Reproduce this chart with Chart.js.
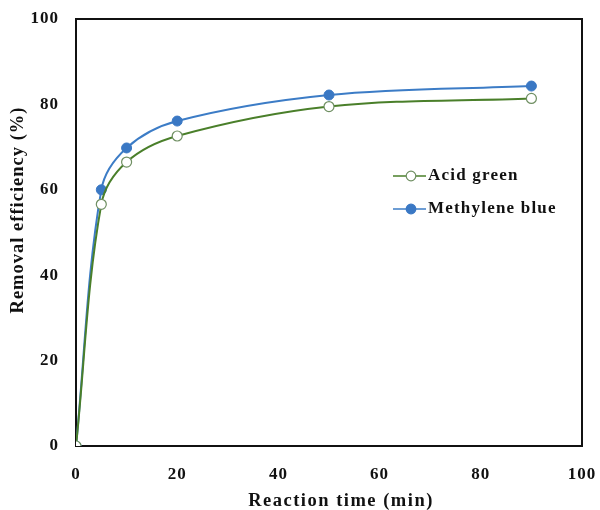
<!DOCTYPE html>
<html>
<head>
<meta charset="utf-8">
<script src="https://cdn.jsdelivr.net/npm/chart.js@4"></script>
<style>
  html, body { margin: 0; padding: 0; background: #fff; }
  #wrap { width: 600px; height: 510px; }
</style>
</head>
<body>
<div id="wrap"><canvas id="kinetics"></canvas></div>
<script>
// Data
const times = [0, 5, 10, 20, 50, 90];
const acidGreen = [0, 56.6, 66.5, 72.6, 79.5, 81.4];
const methyleneBlue = [0, 60.0, 69.8, 76.1, 82.2, 84.3];
const xTicks = [0, 20, 40, 60, 80, 100];
const yTicks = [0, 20, 40, 60, 80, 100];
const xTitle = "Reaction time (min)";
const yTitle = "Removal efficiency (%)";

const serif = "'Liberation Serif', 'DejaVu Serif', serif";

const toPoints = (ys) => times.map((t, i) => ({ x: t, y: ys[i] }));

// the scan's bold Times is a bit stretched, so widen the letters a little
const spacingPlugin = {
    id: "spacing",
    beforeLayout(chart) {
        chart.ctx.letterSpacing = "1px";
    },
};

// frame round the plot area, axis titles, legend inside the plot
const framePlugin = {
    id: "frame",
    beforeDatasetsDraw(chart) {
        const { ctx, chartArea: a } = chart;
        ctx.save();
        ctx.strokeStyle = "#111";
        ctx.lineWidth = 2;
        ctx.strokeRect(a.left, a.top, a.width, a.height);
        ctx.restore();
    },
    afterDraw(chart) {
        const { ctx } = chart;
        ctx.save();
        ctx.fillStyle = "#111";
        ctx.textAlign = "center";
        ctx.textBaseline = "middle";
        ctx.font = "bold 18.5px " + serif;

        // axis titles
        ctx.letterSpacing = "1.5px";
        ctx.fillText(xTitle, 341, 501);
        ctx.letterSpacing = "1px";
        ctx.save();
        ctx.translate(18, 210);
        ctx.rotate(-Math.PI / 2);
        ctx.fillText(yTitle, 0, 0);
        ctx.restore();

        // legend
        const x0 = 393;
        const rows = [176, 209];
        ctx.textAlign = "left";
        ctx.font = "bold 17px " + serif;
        ctx.letterSpacing = "1.2px";
        chart.data.datasets.forEach((ds, i) => {
            const y = rows[i];
            ctx.strokeStyle = ds.borderColor;
            ctx.lineWidth = 1.5;
            ctx.beginPath();
            ctx.moveTo(x0, y);
            ctx.lineTo(x0 + 33, y);
            ctx.stroke();
            ctx.beginPath();
            ctx.arc(x0 + 18, y, 4.8, 0, Math.PI * 2);
            ctx.fillStyle = ds.pointBackgroundColor;
            ctx.fill();
            ctx.strokeStyle = ds.pointBorderColor;
            ctx.lineWidth = 1.2;
            ctx.stroke();
            ctx.fillStyle = "#111";
            ctx.fillText(ds.label, x0 + 35, y);
        });
        ctx.restore();
    },
};

const chart = new Chart(document.getElementById("kinetics"), {
    type: "line",
    data: {
        datasets: [
            {
                label: "Acid green",
                data: toPoints(acidGreen),
                borderColor: "#4a7f2a",
                borderWidth: 2,
                pointBackgroundColor: "#ffffff",
                pointBorderColor: "#6f8f62",
                pointBorderWidth: 1.2,
                pointRadius: 5,
                tension: 0.35,
            },
            {
                label: "Methylene blue",
                data: toPoints(methyleneBlue),
                borderColor: "#3c7cc6",
                borderWidth: 2,
                pointBackgroundColor: "#3a78c4",
                pointBorderColor: "#3a78c4",
                pointBorderWidth: 1,
                pointRadius: 5,
                tension: 0.35,
            },
        ],
    },
    options: {
        responsive: true,
        maintainAspectRatio: false,
        animation: false,
        layout: { padding: { left: 0, right: 18, top: 19, bottom: 0 } },
        plugins: {
            legend: { display: false },
            tooltip: { enabled: false },
        },
        scales: {
            x: {
                type: "linear",
                min: 0,
                max: 100,
                afterFit: (s) => { s.height = 64; },
                afterBuildTicks: (s) => { s.ticks = xTicks.map((v) => ({ value: v })); },
                grid: { display: true, drawOnChartArea: false, drawTicks: true, tickLength: 18, tickColor: "rgba(0,0,0,0)" },
                border: { display: true, color: "#111", width: 2 },
                ticks: {
                    padding: 0,
                    color: "#111",
                    font: { family: serif, size: 17, weight: "bold" },
                },
                title: { display: false, text: xTitle },
            },
            y: {
                min: 0,
                max: 100,
                afterFit: (s) => { s.width = 76; },
                afterBuildTicks: (s) => { s.ticks = yTicks.map((v) => ({ value: v })); },
                grid: { display: true, drawOnChartArea: false, drawTicks: true, tickLength: 17, tickColor: "rgba(0,0,0,0)" },
                border: { display: true, color: "#111", width: 2 },
                ticks: {
                    padding: 0,
                    color: "#111",
                    font: { family: serif, size: 17, weight: "bold" },
                },
                title: { display: false, text: yTitle },
            },
        },
    },
    plugins: [spacingPlugin, framePlugin],
});
</script>
</body>
</html>
